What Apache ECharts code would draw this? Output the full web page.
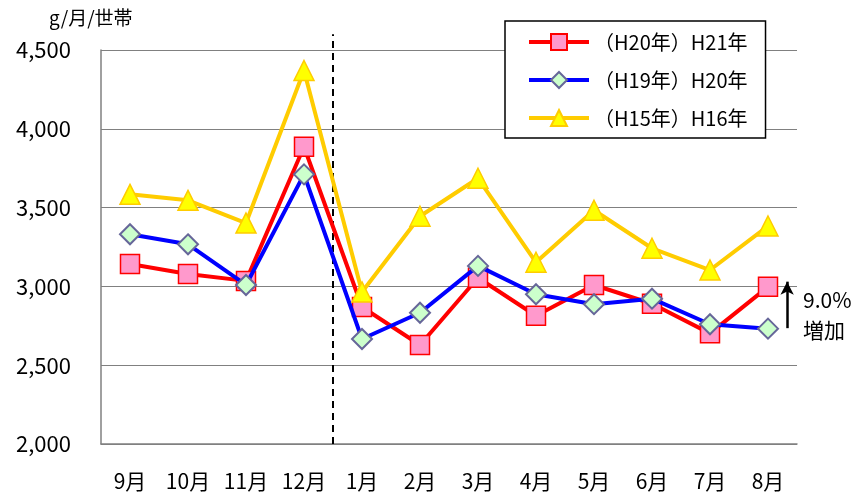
<!DOCTYPE html>
<html>
<head>
    <meta charset="utf-8">
    <title>monthly chart</title>
    <script src="https://cdn.jsdelivr.net/npm/echarts@6/dist/echarts.min.js"></script>
</head>
<body style="margin:0">
<div id="main" style="width:853px;height:494px;"></div>
<script>
    // 月
    var months = ['9月','10月','11月','12月','1月','2月','3月','4月','5月','6月','7月','8月'];
    var seriesNames = ['（H20年）H21年','（H19年）H20年','（H15年）H16年'];
    var h21 = [3142, 3079, 3035, 3886, 2869, 2628, 3055, 2814, 3009, 2890, 2702, 2997];
    var h20 = [3331, 3267, 3009, 3711, 2666, 2833, 3130, 2950, 2887, 2922, 2760, 2732];
    var h16 = [3584, 3546, 3402, 4370, 2965, 3445, 3686, 3153, 3483, 3242, 3104, 3383];
    var yTicks = [2000, 2500, 3000, 3500, 4000, 4500];
    // 区切り線 (12月と1月の間) と増加の矢印
    var divider = [[3.5, 2000], [3.5, 4600]];
    var arrowAt = 11.33;
    var arrowFrom = 2735, arrowTo = 3030;

    var font = '"Noto Sans CJK JP", "Noto Sans", sans-serif';

    var chart = echarts.init(document.getElementById('main'));
    var option = {
        backgroundColor: '#fff',
        animation: false,
        textStyle: { fontFamily: font },
        title: {
            text: 'g/月/世帯',
            left: 44,
            top: 3,
            textStyle: { fontFamily: font, fontSize: 19, fontWeight: 'normal', color: '#000' }
        },
        grid: { left: 101, right: 56, top: 50, bottom: 50 },
        legend: {
            data: seriesNames,
            orient: 'vertical',
            left: 505,
            top: 21,
            padding: [11, 18, 10, 22],
            itemGap: 18,
            itemWidth: 60,
            itemHeight: 20,
            borderColor: '#000',
            borderWidth: 1.5,
            backgroundColor: '#fff',
            lineStyle: { width: 4 },
            textStyle: { fontFamily: font, fontSize: 20, color: '#000' }
        },
        xAxis: [{
            type: 'category',
            data: months,
            axisLine: { lineStyle: { color: '#808080', width: 1.5 } },
            axisTick: { inside: true, length: 7, lineStyle: { color: '#808080' } },
            axisLabel: { fontFamily: font, fontSize: 21, color: '#000', margin: 27 }
        }, {
            type: 'value',
            min: -0.5,
            max: 11.5,
            show: false
        }],
        yAxis: {
            type: 'value',
            min: yTicks[0],
            max: yTicks[yTicks.length - 1],
            interval: 500,
            axisLine: { show: true, onZero: false, lineStyle: { color: '#808080', width: 1.5 } },
            axisTick: { show: false },
            splitLine: { lineStyle: { color: '#808080', width: 1 } },
            axisLabel: {
                fontFamily: font, fontSize: 22, color: '#000', margin: 30,
                formatter: function (v) { return v.toLocaleString('en-US'); }
            }
        },
        series: [{
            name: seriesNames[0],
            type: 'line',
            data: h21,
            z: 2,
            symbol: 'rect',
            symbolSize: 19,
            lineStyle: { color: '#ff0000', width: 4 },
            itemStyle: { color: '#ff99cc', borderColor: '#ff0000', borderWidth: 1.5 }
        }, {
            name: seriesNames[1],
            type: 'line',
            data: h20,
            z: 3,
            symbol: 'diamond',
            symbolSize: 20,
            lineStyle: { color: '#0000ff', width: 4 },
            itemStyle: { color: '#ccffcc', borderColor: '#666699', borderWidth: 2 }
        }, {
            name: seriesNames[2],
            type: 'line',
            data: h16,
            z: 4,
            symbol: 'triangle',
            symbolSize: 20,
            lineStyle: { color: '#ffcc00', width: 4 },
            itemStyle: { color: '#ffff00', borderColor: '#ffcc00', borderWidth: 1.5 }
        }, {
            name: 'divider',
            type: 'line',
            xAxisIndex: 1,
            data: divider,
            clip: false,
            silent: true,
            symbol: 'none',
            z: 1,
            lineStyle: { color: '#000', width: 2, type: [7, 5] },
            markLine: {
                silent: true,
                animation: false,
                label: { show: false },
                data: [
                    [{ coord: [arrowAt, arrowFrom], symbol: 'none', lineStyle: { color: '#000', width: 2.5, type: 'solid' } },
                     { coord: [arrowAt, arrowTo], symbol: 'arrow', symbolSize: [10, 13] }]
                ]
            }
        }],
        graphic: [{
            type: 'text',
            left: 803,
            top: 285,
            style: {
                text: '9.0%\n増加',
                font: '21px ' + font,
                lineHeight: 30,
                fill: '#000'
            }
        }]
    };
    chart.setOption(option);
</script>
</body>
</html>
